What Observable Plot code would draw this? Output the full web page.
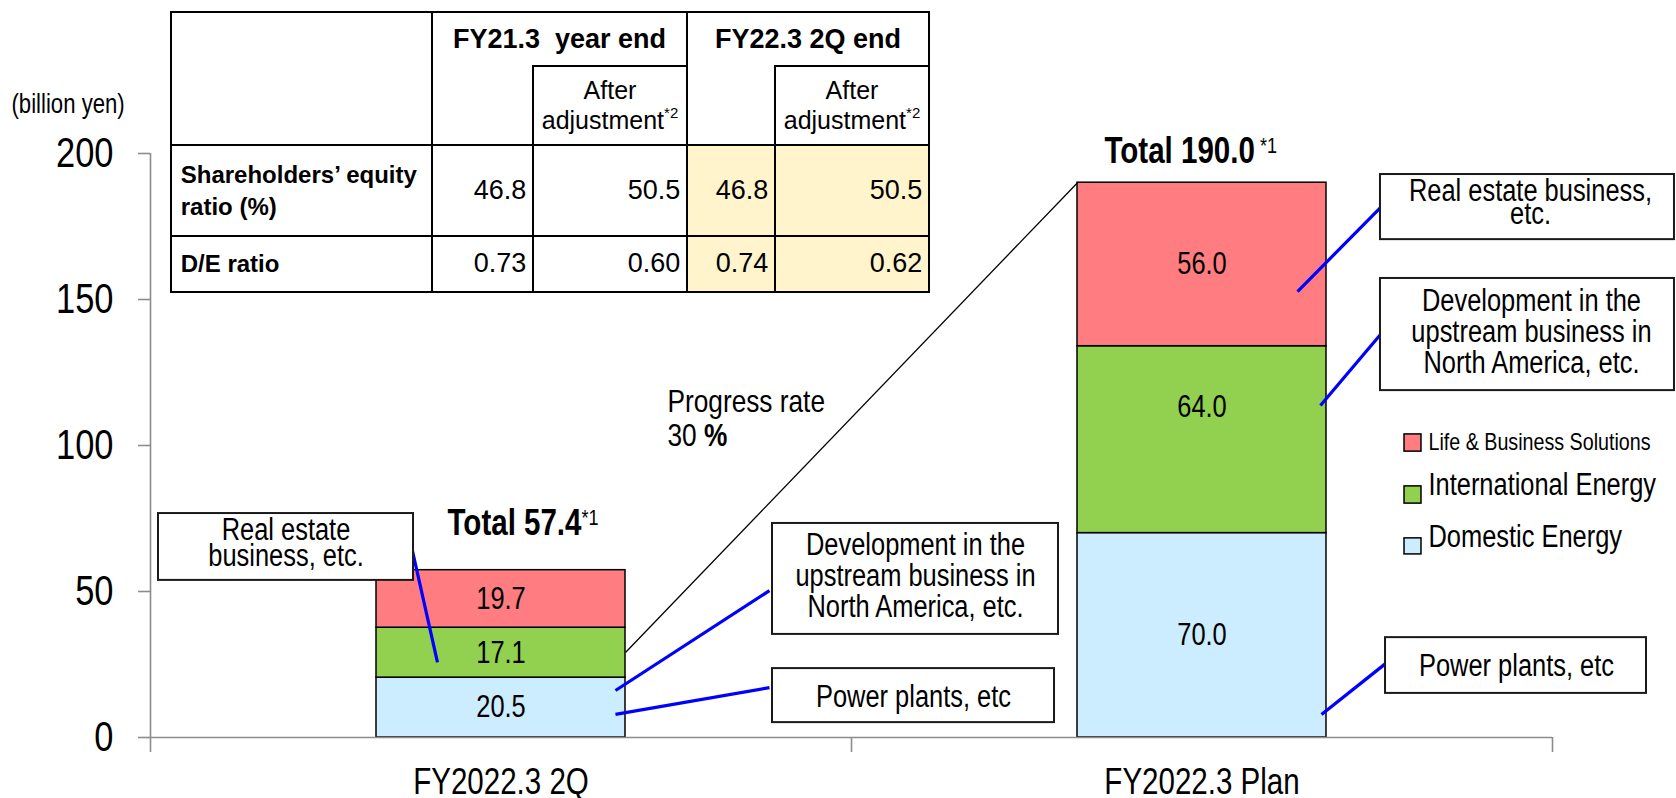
<!DOCTYPE html>
<html><head><meta charset="utf-8">
<script src="https://cdn.jsdelivr.net/npm/d3@7"></script>
<script src="https://cdn.jsdelivr.net/npm/@observablehq/plot@0.6"></script>
<style>
html,body{margin:0;padding:0;background:#fff;}
#wrap{position:relative;width:1676px;height:798px;overflow:hidden;background:#fff;}
#wrap svg{position:absolute;left:0;top:0;}
.cell{position:absolute;box-sizing:border-box;display:flex;align-items:center;font-family:'Liberation Sans',Arial,sans-serif;color:#000;white-space:pre;}
</style></head><body><div id="wrap"></div>
<script>
// ---------- data ----------
const categories = ["FY2022.3 2Q", "FY2022.3 Plan"];
const seriesNames = ["Domestic Energy", "International Energy", "Life & Business Solutions"];
const domesticEnergy = [20.5, 70.0];
const internationalEnergy = [17.1, 64.0];
const lifeBusiness = [19.7, 56.0];
const totals = [57.4, 190.0];
const totalNotes = ["*1", " *1"];
const yTicks = [0, 50, 100, 150, 200];
const progressRate = 30;
const unitLabel = "(billion yen)";

const tableGroups = ["FY21.3  year end", "FY22.3 2Q end"];
const tableSub = ["After", "adjustment"];
const tableSubNote = "*2";
const rowLabels = [["Shareholders’ equity", "ratio (%)"], ["D/E ratio"]];
const equityRatio = [46.8, 50.5, 46.8, 50.5];
const deRatio = [0.73, 0.60, 0.74, 0.62];

const calloutTexts = [
  "Real estate\nbusiness, etc.",
  "Development in the\nupstream business in\nNorth America, etc.",
  "Power plants, etc",
  "Real estate business,\netc.",
  "Development in the\nupstream business in\nNorth America, etc.",
  "Power plants, etc"
];

// ---------- styles / layout ----------
const colors = {"Domestic Energy": "#CCECFF", "International Energy": "#92D050", "Life & Business Solutions": "#FF7C80"};
const NARROW = "'Liberation Sans Narrow','Arial Narrow','Liberation Sans',Arial,sans-serif";
const GRAY = "#8c8c8c";
const HALF = 0.1776; // half bar width in band units
const segLabelNudge = {"FY2022.3 Plan|International Energy": 11};

// annotation layout (x in band units 0..2, y in billion yen)
const calloutLayout = [
  {box: [0.0114, 0.3752, 53.8, 76.7], tx: 0.1933, ty: 58.6, lh: 0.84, lead: [0.3723, 65.4, 0.4094, 25.7]},
  {box: [0.8873, 1.2953, 35.3, 73.3], tx: 1.0913, ty: 41.1, lh: 1.0, lead: [0.8830, 50.3, 0.6633, 16.1]},
  {box: [0.8873, 1.2896, 5.1, 23.6], tx: 1.0884, ty: 10.6, lh: 1.0, lead: [0.8830, 17.1, 0.6633, 7.9]},
  {box: [1.7546, 2.1740, 170.5, 192.8], tx: 1.9686, ty: 176.0, lh: 0.74, lead: [1.7546, 181.5, 1.6362, 152.7]},
  {box: [1.7546, 2.1740, 118.8, 157.2], tx: 1.9700, ty: 124.7, lh: 1.0, lead: [1.7546, 138.0, 1.6690, 113.7]},
  {box: [1.7618, 2.1341, 15.1, 34.2], tx: 1.9486, ty: 21.2, lh: 1.0, lead: [1.7618, 25.3, 1.6705, 7.9]}
];
const callouts = calloutTexts.map((t, i) => ({text: t, ...calloutLayout[i]}));
const totalLayout = [{x: 0.4237, y: 69.2}, {x: 1.3609, y: 196.9}];
const progressLayout = [{x: 0.7375, y: 111.6}, {x: 0.7375, y: 99.7}];
const progressLineStartY = 29.1;
const legendLayout = [
  {series: "Life & Business Solutions", fs: 24, y1: 97.9, y2: 103.8, ty: 98.3},
  {series: "International Energy", fs: 31, y1: 80.1, y2: 86.0, ty: 83.2},
  {series: "Domestic Energy", fs: 31, y1: 62.7, y2: 68.2, ty: 65.1}
];

// ---------- stacking ----------
const seriesValues = [domesticEnergy, internationalEnergy, lifeBusiness];
const segments = [];
categories.forEach((c, i) => {
  let base = 0;
  seriesValues.forEach((vals, s) => {
    segments.push({cat: c, i, series: seriesNames[s], value: vals[i], y1: base, y2: base + vals[i]});
    base += vals[i];
  });
});

// ---------- chart ----------
const chart = Plot.plot({
  width: 1676, height: 798,
  marginLeft: 150, marginRight: 124, marginTop: 153, marginBottom: 61,
  x: {type: "linear", domain: [0, 2], axis: null},
  y: {domain: [0, 200], axis: null},
  style: {background: "transparent", overflow: "visible"},
  marks: [
    Plot.rect(segments, {x1: d => d.i + 0.5 - HALF, x2: d => d.i + 0.5 + HALF, y1: "y1", y2: "y2",
      fill: d => colors[d.series], stroke: "#000", strokeWidth: 1.5}),
    Plot.ruleY([0], {stroke: GRAY, strokeWidth: 1.6}),
    Plot.ruleX([0], {y1: 0, y2: 200, stroke: GRAY, strokeWidth: 1.6}),
    Plot.ruleX([0, 1, 2], {y1: 0, y2: 0, insetBottom: -15, stroke: GRAY, strokeWidth: 1.6}),
    Plot.axisY(yTicks, {tickSize: 12, tickPadding: 25, fontSize: 42, fontFamily: NARROW, stroke: GRAY, strokeWidth: 1.6, label: null, tickFormat: d => String(d)}),
    Plot.text(categories, {x: (d, i) => i + 0.5, y: 0, dy: 56, lineAnchor: "bottom", fontSize: 36, fontFamily: NARROW}),
    Plot.text(segments, {x: d => d.i + 0.5, y: d => (d.y1 + d.y2) / 2 + (segLabelNudge[d.cat + "|" + d.series] || 0),
      text: d => d.value.toFixed(1), fontSize: 31, fontFamily: NARROW}),
    Plot.text(totals, {x: (d, i) => totalLayout[i].x, y: (d, i) => totalLayout[i].y, text: d => `Total ${d.toFixed(1)}`,
      textAnchor: "start", lineAnchor: "bottom", fontSize: 36, fontWeight: "bold", fontFamily: NARROW}),
    Plot.link([0], {x1: 0.5 + HALF, y1: progressLineStartY, x2: 1.5 - HALF, y2: totals[1], stroke: "#000", strokeWidth: 1.3}),
    Plot.text(["Progress rate", `${progressRate} %`], {x: (d, i) => progressLayout[i].x, y: (d, i) => progressLayout[i].y,
      textAnchor: "start", lineAnchor: "bottom", fontSize: 32, fontFamily: NARROW}),
    Plot.link(callouts, {x1: d => d.lead[0], y1: d => d.lead[1], x2: d => d.lead[2], y2: d => d.lead[3], stroke: "#0000FF", strokeWidth: 3.2}),
    Plot.rect(callouts, {x1: d => d.box[0], x2: d => d.box[1], y1: d => d.box[2], y2: d => d.box[3], fill: "white", stroke: "#1a1a1a", strokeWidth: 2}),
    ...callouts.map(c => Plot.text([c], {x: "tx", y: "ty", text: "text", lineAnchor: "bottom", lineHeight: c.lh, fontSize: 31, fontFamily: NARROW})),
    Plot.rect(legendLayout, {x1: 1.7889, x2: 1.8131, y1: "y1", y2: "y2", fill: d => colors[d.series], stroke: "#000", strokeWidth: 1.5}),
    ...legendLayout.map(l => Plot.text([l], {x: 1.8231, y: "ty", text: "series", textAnchor: "start", lineAnchor: "bottom", fontSize: l.fs, fontFamily: NARROW})),
    Plot.text([unitLabel], {x: -0.1983, y: 214.0, textAnchor: "start", lineAnchor: "bottom", fontSize: 27, fontFamily: NARROW})
  ]
});
const wrap = document.getElementById("wrap");
wrap.appendChild(chart);

// superscripts and bold parts
chart.querySelectorAll("text").forEach(t => {
  const s = t.textContent;
  totals.forEach((v, i) => {
    if (s === `Total ${v.toFixed(1)}`) {
      const ts = document.createElementNS("http://www.w3.org/2000/svg", "tspan");
      ts.setAttribute("font-size", "22"); ts.setAttribute("font-weight", "normal"); ts.setAttribute("dy", "-10");
      ts.textContent = totalNotes[i];
      t.appendChild(ts);
    }
  });
  if (s === `${progressRate} %`) {
    t.textContent = `${progressRate} `;
    const ts = document.createElementNS("http://www.w3.org/2000/svg", "tspan");
    ts.setAttribute("font-weight", "bold"); ts.textContent = "%";
    t.appendChild(ts);
  }
});

// narrow-font fallback
function fontAvailable(name) {
  const ctx = document.createElement("canvas").getContext("2d");
  const s = "mmmmwwwwlli1234567890abcdefghij";
  ctx.font = "40px monospace"; const a = ctx.measureText(s).width;
  ctx.font = `40px "${name}", monospace`; const b = ctx.measureText(s).width;
  return a !== b;
}
if (!fontAvailable("Liberation Sans Narrow") && !fontAvailable("Arial Narrow")) {
  chart.querySelectorAll("g[font-family*='Narrow'] text").forEach(t => {
    const lines = Array.from(t.children).filter(c => c.tagName === "tspan" && c.hasAttribute("x"));
    const targets = lines.length ? lines : [t];
    targets.forEach(el => {
      const L = el.getComputedTextLength();
      el.setAttribute("textLength", (L * 0.82).toFixed(2));
      el.setAttribute("lengthAdjust", "spacingAndGlyphs");
    });
  });
}

// ---------- table ----------
const TX = [171, 432, 533, 687, 775, 929];
const TY = [12, 66, 145, 236, 292];
const BW = 2.5;
function cell(c0, c1, r0, r1, o) {
  const d = document.createElement("div");
  d.className = "cell";
  const x0 = TX[c0], x1 = TX[c1], y0 = TY[r0], y1 = TY[r1];
  d.style.left = (x0 - BW / 2) + "px"; d.style.top = (y0 - BW / 2) + "px";
  d.style.width = (x1 - x0 + BW) + "px"; d.style.height = (y1 - y0 + BW) + "px";
  const side = (k, on) => d.style["border" + k] = on === false ? "none" : BW + "px solid #000";
  side("Top", o.t); side("Right", o.r); side("Bottom", o.b); side("Left", o.l);
  if (o.bg) d.style.background = o.bg;
  d.style.justifyContent = o.align === "right" ? "flex-end" : o.align === "left" ? "flex-start" : "center";
  d.style.paddingRight = (o.pr || 0) + "px"; d.style.paddingLeft = (o.pl || 0) + "px";
  d.style.fontSize = (o.fs || 26) + "px"; d.style.fontWeight = o.fw || "normal";
  d.style.lineHeight = o.lh || 1.15;
  const inner = document.createElement("div");
  inner.style.textAlign = o.align || "center";
  if (o.dy) inner.style.marginTop = o.dy + "px";
  inner.innerHTML = o.html || "";
  d.appendChild(inner);
  wrap.appendChild(d);
}
const YEL = "#FFF4CC";
const subHtml = `${tableSub[0]}<br>${tableSub[1]}<span style="font-size:15px;position:relative;top:-11px">${tableSubNote}</span>`;
cell(0, 1, 0, 2, {});
tableGroups.forEach((g, k) => {
  const c = 1 + 2 * k;
  cell(c, c + 2, 0, 1, {b: false, html: g, fs: 27, fw: "bold"});
  cell(c, c + 1, 1, 2, {t: false});
  cell(c + 1, c + 2, 1, 2, {html: subHtml, fs: 25, lh: 1.18});
});
[equityRatio, deRatio].forEach((vals, r) => {
  cell(0, 1, 2 + r, 3 + r, {html: rowLabels[r].join("<br>"), align: "left", pl: 9, fs: 24, fw: "bold", lh: 1.3});
  vals.forEach((v, j) => {
    cell(1 + j, 2 + j, 2 + r, 3 + r, {html: r === 0 ? v.toFixed(1) : v.toFixed(2), align: "right", pr: 6, fs: 27, bg: j >= 2 ? YEL : null});
  });
});
</script></body></html>
